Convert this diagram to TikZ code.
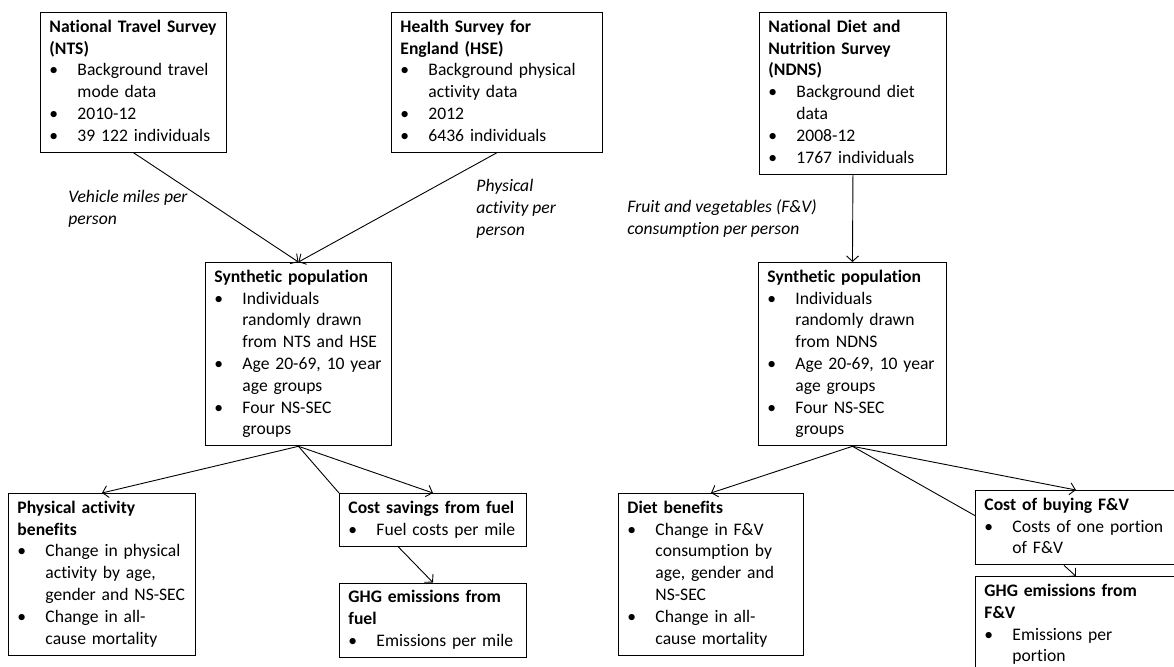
\documentclass[tikz,border=0pt]{standalone}
\usepackage{fontspec}
\setmainfont[Ligatures=NoCommon]{Carlito}
\usetikzlibrary{arrows.meta,positioning}
\setlength{\parindent}{0pt}

\newcommand{\hd}[1]{\strut\textbf{#1}\rightskip=-12pt plus 1fil}
\newcommand{\bitem}{\par\hangindent=28pt\hangafter=1\rightskip=-12pt plus 1fil\makebox[28pt][l]{\textbullet}}
\newcommand{\boxend}{\strut\par}

\begin{document}
\begin{tikzpicture}[x=1pt,y=-1pt,line width=0.9pt,
    >={Straight Barb[length=5.5pt,width=12pt]},
    box/.style={rectangle,draw,anchor=north west,align=left,
      inner xsep=9pt,inner ysep=4.5pt,font=\fontsize{17.6}{21.8}\selectfont},
    flow label/.style={anchor=north west,align=left,inner sep=0pt,
      font=\fontsize{17.6}{21.8}\selectfont\itshape}]

    \path[use as bounding box,fill=white] (0,0) rectangle (1174,666);
    \clip (0,0) rectangle (1174,666);

    \node[box,text width=168pt] (nts) at (40,12)
      {\hd{National Travel Survey\newline (NTS)}
       \bitem Background travel\newline mode data
       \bitem 2010-12
       \bitem 39 122 individuals\boxend};
    \node[box,text width=193pt] (hse) at (391,12)
      {\hd{Health Survey for\newline England (HSE)}
       \bitem Background physical\newline activity data
       \bitem 2012
       \bitem 6436 individuals\boxend};
    \node[box,text width=169pt] (ndns) at (759,12)
      {\hd{National Diet and\newline Nutrition Survey\newline (NDNS)}
       \bitem Background diet\newline data
       \bitem 2008-12
       \bitem 1767 individuals\boxend};

    \node[box,text width=168pt] (synl) at (205,262)
      {\hd{Synthetic population}
       \bitem Individuals\newline randomly drawn\newline from NTS and HSE
       \bitem Age 20-69, 10 year\newline age groups
       \bitem Four NS-SEC\newline groups\boxend};
    \node[box,text width=170pt] (synr) at (758,262)
      {\hd{Synthetic population}
       \bitem Individuals\newline randomly drawn\newline from NDNS
       \bitem Age 20-69, 10 year\newline age groups
       \bitem Four NS-SEC\newline groups\boxend};

    \node[box,text width=169pt] (pa) at (8,493)
      {\hd{Physical activity\newline benefits}
       \bitem Change in physical\newline activity by age,\newline gender and NS-SEC
       \bitem Change in all-\newline cause mortality\boxend};
    \node[box,text width=169pt] (costf) at (339,493)
      {\hd{Cost savings from fuel}
       \bitem Fuel costs per mile\boxend};
    \node[box,text width=169pt,below right=36pt and 0pt of costf.south west] (ghgf)
      {\hd{GHG emissions from\newline fuel}
       \bitem Emissions per mile\boxend};

    \node[box,text width=167pt] (diet) at (618,493)
      {\hd{Diet benefits}
       \bitem Change in F\&V\newline consumption by\newline age, gender and\newline NS-SEC
       \bitem Change in all-\newline cause mortality\boxend};
    \node[box,text width=183pt] (costfv) at (975,490)
      {\hd{Cost of buying F\&V}
       \bitem Costs of one portion\newline of F\&V\boxend};
    \node[box,text width=183pt,below right=11pt and 0pt of costfv.south west] (ghgfv)
      {\hd{GHG emissions from\newline F\&V}
       \bitem Emissions per\newline portion\boxend};

    \node[flow label] (miles) at (68,187) {\strut Vehicle miles per\\person};
    \node[flow label] (activity) at (476,176) {\strut Physical\\activity per\\person};
    \node[flow label] (fruit) at (627,197) {\strut Fruit and vegetables (F\&V)\\consumption per person};

    \draw[->] (nts.south) -- (synl.north);
    \draw[->] (hse.south) -- (synl.north);
    \draw[->] (ndns.south) -- (synr.north);

    \draw[->] (synl.south) -- (pa.north);
    \draw (synl.south) -- (costf.north west);
    \draw[->] (synl.south) -- (costf.north);
    \draw[->] ([xshift=-35pt]costf.south) -- (ghgf.north);

    \draw[->] (synr.south) -- (diet.north);
    \draw (synr.south) -- ([yshift=12pt]costfv.west);
    \draw[->] (synr.south) -- (costfv.north);
    \draw[->] ([xshift=-12pt]costfv.south) -- (ghgfv.north);
\end{tikzpicture}
\end{document}
